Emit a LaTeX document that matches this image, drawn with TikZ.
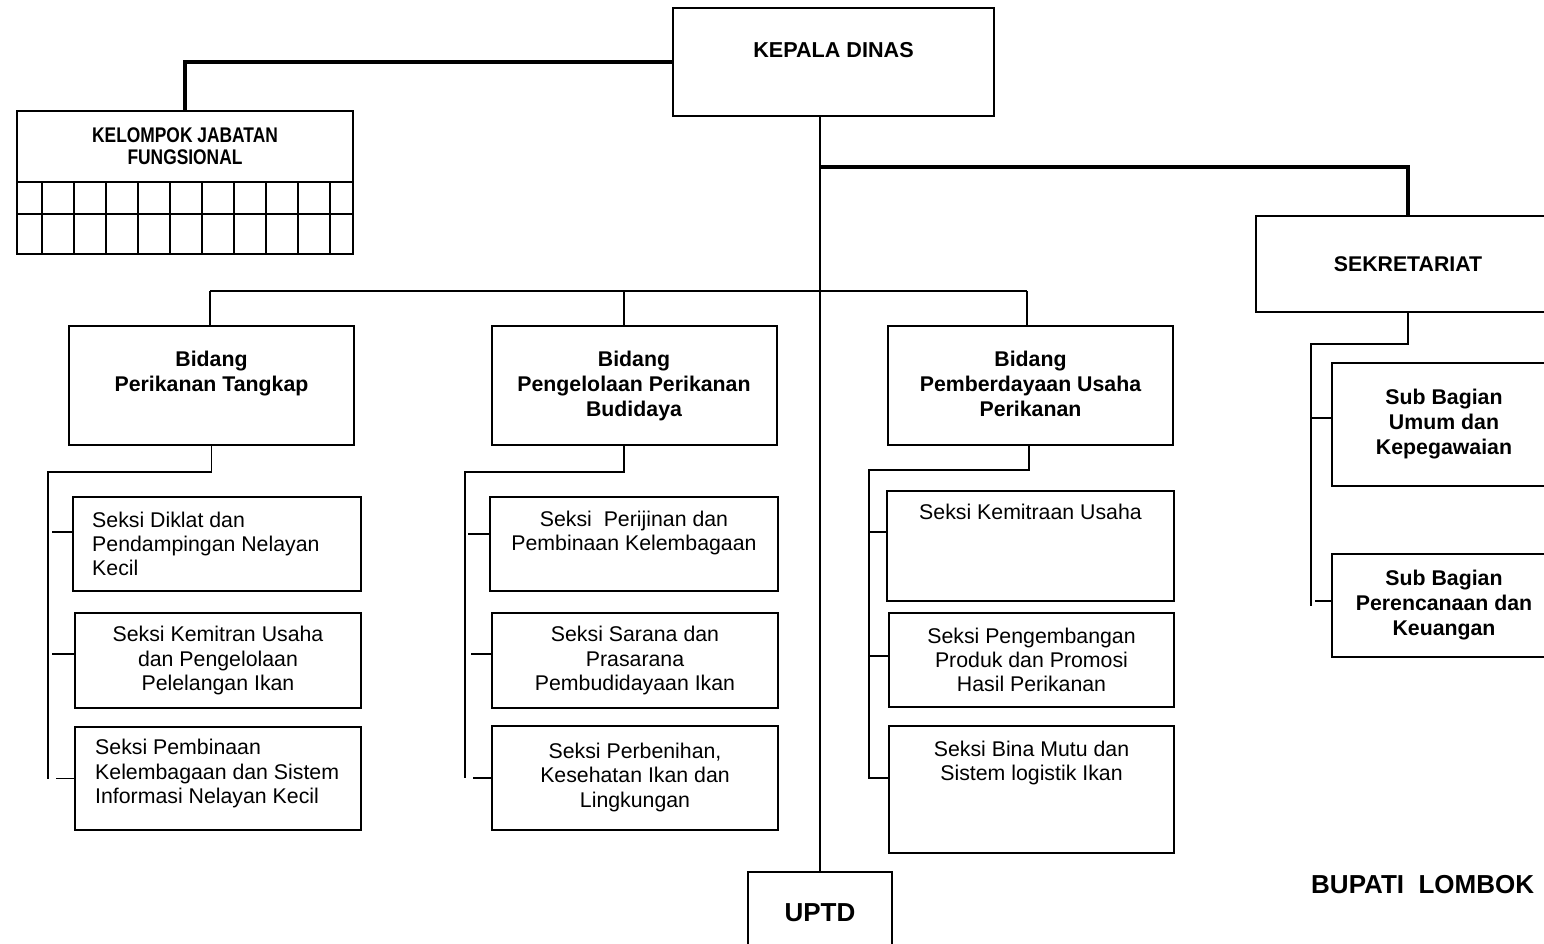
\documentclass[tikz,border=0pt]{standalone}
\usepackage{fontspec}
\setmainfont{Liberation Sans}
\newfontfamily\narrowfont[FakeStretch=0.82]{Liberation Sans}
\usetikzlibrary{positioning}
\newcommand{\seksifont}{\fontsize{21.3}{24.3}\selectfont}
\newcommand{\bidfont}{\fontsize{21.3}{25}\selectfont\bfseries}
\tikzset{
  orgbox/.style={
    rectangle,
    draw=black,
    line width=2pt,
    inner sep=0pt,
    align=center,
    font=\seksifont,
  },
  bidbox/.style={
    orgbox,
    minimum width=285pt,
    minimum height=119pt,
  },
  boldtext/.style={
    inner sep=0pt,
    align=center,
    font=\bidfont,
  },
  plaintext/.style={
    inner sep=0pt,
    align=center,
    font=\seksifont,
  },
  gridline/.style={line width=2pt},
  link/.style={line width=1.6pt},
  mainlink/.style={line width=3.5pt}
}

\begin{document}
\begin{tikzpicture}[x=1pt, y=-1pt]
  \useasboundingbox (0,0) rectangle (1544,943);
  \clip (0,0) rectangle (1544,943);

  % Kepala dinas
  \node [orgbox, minimum width=321pt, minimum height=108pt] (kadis) at (833.5,62) {};
  \node [boldtext, font=\fontsize{21.6}{25}\selectfont\bfseries, below=35pt of kadis.north]
        (kadistext) {KEPALA DINAS};

  % Kelompok jabatan fungsional with its grid
  \node [orgbox, minimum width=336pt, minimum height=71pt,
         font=\narrowfont\fontsize{21.2}{22}\selectfont\bfseries] (jafung) at (185,146.5)
        {KELOMPOK JABATAN\\FUNGSIONAL};
  \draw [gridline] (17,182) rectangle (353,254);
  \draw [gridline] (17,214) -- (353,214);
  \foreach \k in {0,...,9}
    \draw [gridline] (41.7+32*\k,182) -- (41.7+32*\k,254);

  % Sekretariat
  \node [orgbox, font=\bidfont, minimum width=304pt, minimum height=96pt] (sekr) at (1408,264)
        {SEKRETARIAT};
  \node [orgbox, font=\bidfont, minimum width=224pt, minimum height=123pt] (subum) at (1444,424.5)
        {Sub Bagian\\Umum dan\\Kepegawaian};
  \node [orgbox, font=\bidfont, minimum width=224pt, minimum height=103pt] (subren) at (1444,605.5)
        {Sub Bagian\\Perencanaan dan\\Keuangan};

  % Bidang
  \node [bidbox] (bidtangkap) at (211.5,385.5) {};
  \node [boldtext, below=26pt of bidtangkap.north] {Bidang\\Perikanan Tangkap};
  \node [bidbox] (bidbudidaya) at (634,385.5) {};
  \node [boldtext, below=26pt of bidbudidaya.north] {Bidang\\Pengelolaan Perikanan\\Budidaya};
  \node [bidbox] (bidusaha) at (1030.5,385.5) {};
  \node [boldtext, below=26pt of bidusaha.north] {Bidang\\Pemberdayaan Usaha\\Perikanan};

  % Seksi, column 1
  \node [orgbox, minimum width=288pt, minimum height=94pt] (sdiklat) at (217,544) {};
  \node [plaintext, align=left, anchor=west] at ([xshift=20pt]sdiklat.west)
        {Seksi Diklat dan\\Pendampingan Nelayan\\Kecil};
  \node [orgbox, minimum width=286pt, minimum height=95pt] (skemitran) at (218,660.5)
        {Seksi Kemitran Usaha\\dan Pengelolaan\\Pelelangan Ikan};
  \node [orgbox, minimum width=286pt, minimum height=103pt] (spembinaan) at (218,778.5) {};
  \node [plaintext, align=left, anchor=west] at ([xshift=21pt, yshift=5pt]spembinaan.west)
        {Seksi Pembinaan\\Kelembagaan dan Sistem\\Informasi Nelayan Kecil};

  % Seksi, column 2
  \node [orgbox, minimum width=288pt, minimum height=94pt] (sperijinan) at (634,544) {};
  \node [plaintext, below=15pt of sperijinan.north] {Seksi\ \ Perijinan dan\\Pembinaan Kelembagaan};
  \node [orgbox, minimum width=286pt, minimum height=95pt] (ssarana) at (635,660.5)
        {Seksi Sarana dan\\Prasarana\\Pembudidayaan Ikan};
  \node [orgbox, minimum width=286pt, minimum height=104pt] (sbenih) at (635,778) {};
  \node [plaintext, below=18pt of sbenih.north] {Seksi Perbenihan,\\Kesehatan Ikan dan\\Lingkungan};

  % Seksi, column 3
  \node [orgbox, minimum width=287pt, minimum height=110pt] (smitra) at (1030.5,546) {};
  \node [plaintext, below=14pt of smitra.north] {Seksi Kemitraan Usaha};
  \node [orgbox, minimum width=285pt, minimum height=94pt] (sproduk) at (1031.5,660)
        {Seksi Pengembangan\\Produk dan Promosi\\Hasil Perikanan};
  \node [orgbox, minimum width=285pt, minimum height=127pt] (smutu) at (1031.5,789.5) {};
  \node [plaintext, below=16pt of smutu.north] {Seksi Bina Mutu dan\\Sistem logistik Ikan};

  % UPTD and signature
  \node [orgbox, font=\fontsize{26}{30}\selectfont\bfseries, minimum width=144pt,
         minimum height=82pt] (uptd) at (820,913) {UPTD};
  \node [inner sep=0pt, anchor=west, font=\fontsize{26}{30}\selectfont\bfseries] (bupati)
        at (1311,885) {BUPATI\ \ LOMBOK};

  % Main lines
  \coordinate (spine) at (820,167);
  \draw [mainlink] (kadis.west) -| (jafung.north);
  \draw [mainlink] (spine) -| (sekr.north);
  \draw [link] (kadis.south -| uptd.north) -- (uptd.north);

  % Bus to the bidang
  \coordinate (busL) at (210,291);
  \coordinate (busR) at (1027,291);
  \coordinate (drop2) at (624,291);
  \draw [link] (busL) -- (busR);
  \draw [link] (busL) -- (busL |- bidtangkap.north);
  \draw [link] (drop2) -- (drop2 |- bidbudidaya.north);
  \draw [link] (busR) -- (busR |- bidusaha.north);

  % Column 1
  \coordinate (trunk1) at (48,472);
  \draw [link] (bidtangkap.south) |- (trunk1) -- (trunk1 |- spembinaan.west);
  \draw [link] ([yshift=12pt]sdiklat.west) -- ++(-20,0);
  \draw [link] ([yshift=6.5pt]skemitran.west) -- ++(-22,0);
  \draw [link] (spembinaan.west) -- ++(-18,0);

  % Column 2
  \coordinate (trunk2) at (465,472);
  \draw [link] ([xshift=-10pt]bidbudidaya.south) |- (trunk2) -- (trunk2 |- sbenih.west);
  \draw [link] ([yshift=10pt]sperijinan.west) -- ++(-21,0);
  \draw [link] ([yshift=6.5pt]ssarana.west) -- ++(-20,0);
  \draw [link] (sbenih.west) -- ++(-18,0);

  % Column 3
  \coordinate (trunk3) at (869,470);
  \draw [link] ([xshift=-1.5pt]bidusaha.south) |- (trunk3) |- ([yshift=11.5pt]smutu.west);
  \draw [link] ([yshift=14pt]smitra.west) -- ++(-18,0);
  \draw [link] ([yshift=4pt]sproduk.west) -- ++(-20,0);

  % Sekretariat subs
  \coordinate (trunk4) at (1311,344);
  \draw [link] (sekr.south) |- (trunk4) -- (trunk4 |- subren.west);
  \draw [link] ([yshift=6.5pt]subum.west) -- ++(-19,0);
  \draw [link] ([yshift=4.5pt]subren.west) -- ++(-16,0);
\end{tikzpicture}
\end{document}
